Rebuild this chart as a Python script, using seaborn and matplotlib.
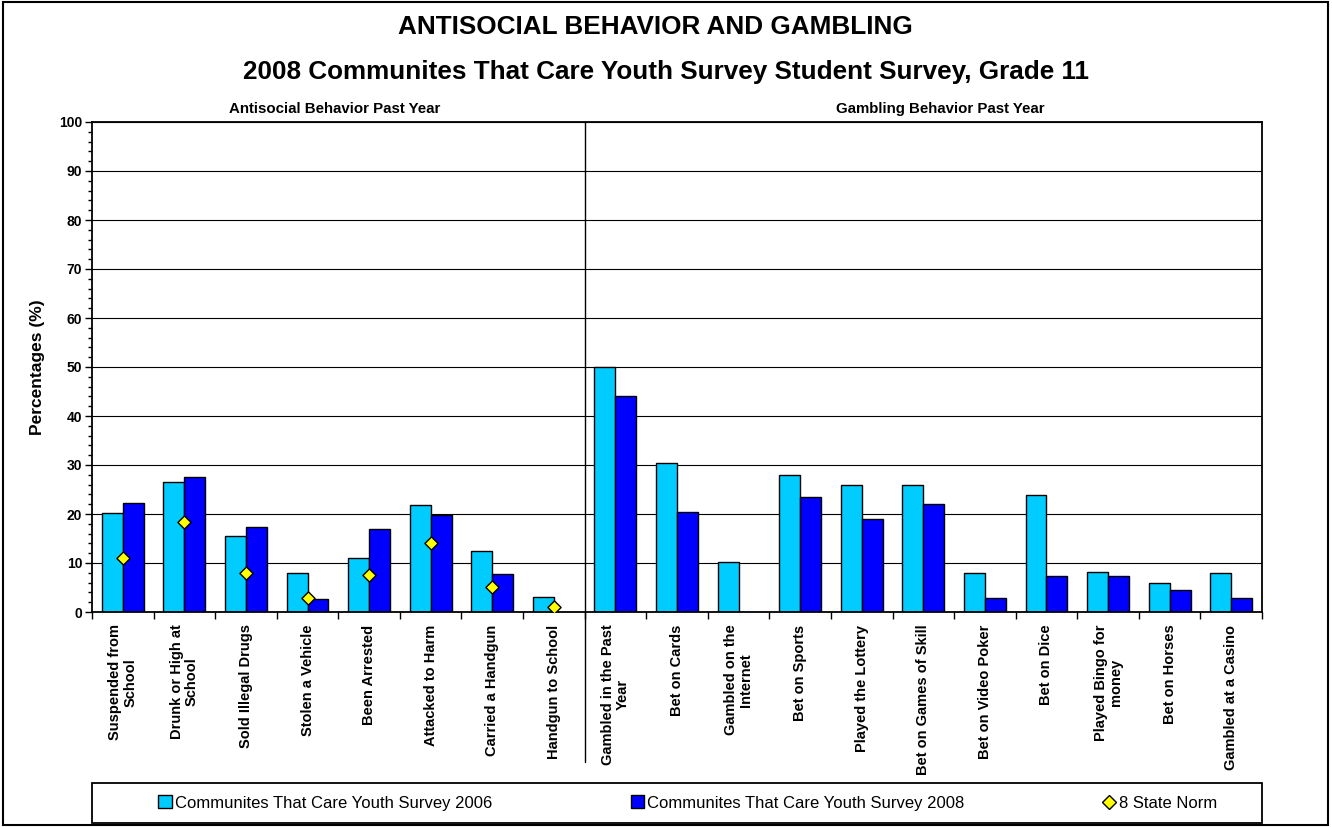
import numpy as np
import pandas as pd
import matplotlib
matplotlib.use("Agg")
import matplotlib.pyplot as plt
import seaborn as sns
from matplotlib.patches import Patch, Rectangle
from matplotlib.lines import Line2D
from matplotlib.ticker import MultipleLocator, FixedLocator

# data
antisocial_items = ["Suspended from\nSchool", "Drunk or High at\nSchool", "Sold Illegal Drugs",
                    "Stolen a Vehicle", "Been Arrested", "Attacked to Harm",
                    "Carried a Handgun", "Handgun to School"]
gambling_items = ["Gambled in the Past\nYear", "Bet on Cards", "Gambled on the\nInternet",
                  "Bet on Sports", "Played the Lottery", "Bet on Games of Skill",
                  "Bet on Video Poker", "Bet on Dice", "Played Bingo for\nmoney",
                  "Bet on Horses", "Gambled at a Casino"]

antisocial_2006 = [20.2, 26.5, 15.5, 7.9, 11.0, 21.8, 12.4, 3.1]
antisocial_2008 = [22.3, 27.6, 17.3, 2.6, 17.0, 19.7, 7.8, np.nan]
antisocial_norm = [11.0, 18.4, 7.9, 2.9, 7.5, 14.0, 5.2, 1.0]

gambling_2006 = [50.0, 30.4, 10.2, 27.9, 25.9, 25.9, 8.0, 23.9, 8.2, 5.9, 8.0]
gambling_2008 = [44.0, 20.5, np.nan, 23.5, 19.0, 22.0, 2.9, 7.3, 7.4, 4.4, 2.9]

series_names = ["Communites That Care Youth Survey 2006", "Communites That Care Youth Survey 2008"]
norm_name = "8 State Norm"

categories = antisocial_items + gambling_items
df = pd.DataFrame({
    "Behavior": categories * 2,
    "Survey": [series_names[0]] * len(categories) + [series_names[1]] * len(categories),
    "Percent": antisocial_2006 + gambling_2006 + antisocial_2008 + gambling_2008,
})

sns.set_style("white")
plt.rcParams["font.family"] = ["Liberation Sans", "DejaVu Sans"]
plt.rcParams["text.color"] = "black"
plt.rcParams["axes.labelcolor"] = "black"
plt.rcParams["xtick.color"] = "black"
plt.rcParams["ytick.color"] = "black"

fig = plt.figure(figsize=[13.32, 8.27], dpi=100)
ax = fig.add_axes([92 / 1332, 1 - 612 / 827, 1170 / 1332, 490 / 827])

palette = {series_names[0]: "#00CCFF", series_names[1]: "#0000FF"}
sns.barplot(data=df, x="Behavior", y="Percent", hue="Survey", order=categories,
            palette=palette, width=0.68, edgecolor="black", linewidth=1.0,
            saturation=1, ax=ax, legend=False)

# state norm markers (antisocial only)
norm_x = [categories.index(c) for c in antisocial_items]
ax.scatter(norm_x, antisocial_norm, marker="D", s=45, color="#FFFF00",
           edgecolor="black", linewidth=1.0, zorder=5)

ax.set_xlim(-0.5, len(categories) - 0.5)
ax.set_ylim(0, 100)
ax.yaxis.set_major_locator(MultipleLocator(10))
ax.yaxis.set_minor_locator(MultipleLocator(2))
ax.yaxis.grid(True, color="black", linewidth=0.8)
ax.set_axisbelow(True)

ax.xaxis.set_minor_locator(FixedLocator(np.arange(-0.5, len(categories), 1.0)))
ax.tick_params(axis="x", which="major", length=0, pad=9)
ax.tick_params(axis="x", which="minor", length=5, width=1, direction="out", bottom=True)
ax.tick_params(axis="y", which="major", length=5, width=1, direction="out", left=True, pad=2)
ax.tick_params(axis="y", which="minor", length=3, width=1, direction="out", left=True)

ax.set_xticks(range(len(categories)))
ax.set_xticklabels(categories, rotation=90, fontsize=10.5, fontweight="bold",
                   ha="center", va="top", multialignment="center", linespacing=1.1)
for lab in ax.get_yticklabels():
    lab.set_fontweight("bold")
    lab.set_fontsize(10)

ax.set_xlabel("")
ax.set_ylabel("Percentages (%)", fontsize=12.5, fontweight="bold", labelpad=10)

for sp in ax.spines.values():
    sp.set_visible(True)
    sp.set_color("black")
    sp.set_linewidth(1.3)

# divider between the two groups
sep = len(antisocial_items) - 0.5
ax.plot([sep, sep], [1, -0.306], color="black", linewidth=1.0,
        transform=ax.get_xaxis_transform(), clip_on=False)

ax.text(0.207, 1.027, "Antisocial Behavior Past Year", transform=ax.transAxes,
        ha="center", va="center", fontsize=10.8, fontweight="bold")
ax.text(0.725, 1.027, "Gambling Behavior Past Year", transform=ax.transAxes,
        ha="center", va="center", fontsize=10.8, fontweight="bold")

fig.text(655 / 1332, 1 - 27 / 827, "ANTISOCIAL BEHAVIOR AND GAMBLING",
         ha="center", va="center", fontsize=18.8, fontweight="bold")
fig.text(666 / 1332, 1 - 72 / 827, "2008 Communites That Care Youth Survey Student Survey, Grade 11",
         ha="center", va="center", fontsize=18.8, fontweight="bold")

# legend box
fig.patches.append(Rectangle((92 / 1332, 1 - 823 / 827), 1170 / 1332, 40 / 827,
                             transform=fig.transFigure, fill=False,
                             edgecolor="black", linewidth=1.3))
handles = [Patch(facecolor="#00CCFF", edgecolor="black", linewidth=1.0),
           Patch(facecolor="#0000FF", edgecolor="black", linewidth=1.0),
           Line2D([], [], marker="D", linestyle="none", markersize=7,
                  markerfacecolor="#FFFF00", markeredgecolor="black")]
fig.legend(handles, series_names + [norm_name], loc="center",
           bbox_to_anchor=(688 / 1332, 1 - 803 / 827), ncol=3, frameon=False,
           prop={"family": ["Liberation Sans Narrow", "Liberation Sans"], "size": 12},
           handlelength=0.8, handleheight=0.8, handletextpad=0.2, columnspacing=8.3)

# outer frame
fig.patches.append(Rectangle((0.002, 0.003), 0.995, 0.994, transform=fig.transFigure,
                             fill=False, edgecolor="black", linewidth=1.5))

fig.savefig("out.png", dpi=100, facecolor="white")
